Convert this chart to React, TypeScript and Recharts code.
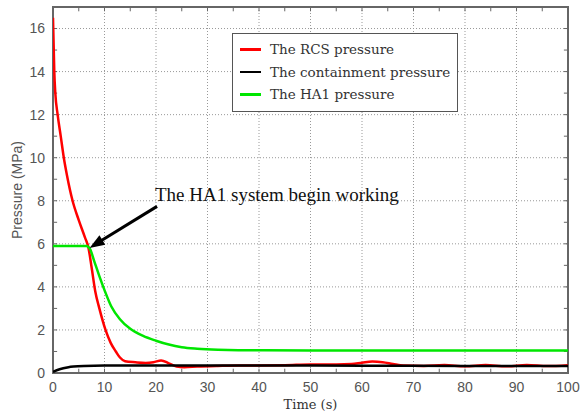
import React from 'react';
import {
  LineChart,
  Line,
  XAxis,
  YAxis,
  CartesianGrid,
  ReferenceLine,
  ReferenceArea,
  Legend,
} from 'recharts';

// RCS (reactor coolant system) pressure, MPa
const RCS_TIME = [0, 0.1, 0.25, 0.45, 0.9, 1.5, 2.1, 2.7, 3.8, 5.0, 6.2, 6.9, 7.5, 8.2, 9.0, 10.2, 11.2, 12.2, 13.0, 14.0, 16, 18, 19.5, 21, 22.5, 24, 25.5, 28, 32, 36, 40, 45, 50, 55, 58, 60, 62, 64, 66, 68, 72, 76, 80, 84, 88, 92, 96, 100];
const RCS_PRESSURE = [16.5, 15.5, 14.0, 13.0, 12.0, 11.0, 10.0, 9.2, 8.0, 7.1, 6.3, 5.8, 4.9, 3.8, 3.0, 2.0, 1.4, 1.0, 0.72, 0.55, 0.5, 0.47, 0.5, 0.58, 0.45, 0.3, 0.27, 0.3, 0.33, 0.35, 0.35, 0.36, 0.4, 0.4, 0.42, 0.48, 0.53, 0.5, 0.42, 0.35, 0.33, 0.37, 0.31, 0.37, 0.31, 0.37, 0.32, 0.36];

// Containment pressure, MPa
const CONT_TIME = [0, 1, 2, 3, 4, 6, 10, 20, 40, 60, 80, 100];
const CONT_PRESSURE = [0.05, 0.15, 0.22, 0.27, 0.3, 0.33, 0.35, 0.35, 0.35, 0.34, 0.33, 0.33];

// HA1 accumulator pressure, MPa
const HA1_TIME = [0, 3, 6.5, 7.2, 8.0, 9.0, 10.0, 11.3, 13, 15, 17.5, 20, 22.5, 25, 28, 32, 36, 50, 75, 100];
const HA1_PRESSURE = [5.9, 5.9, 5.9, 5.75, 5.2, 4.5, 3.85, 3.1, 2.5, 2.05, 1.72, 1.5, 1.32, 1.2, 1.13, 1.08, 1.06, 1.05, 1.05, 1.05];

const SERIES_NAMES = ['The RCS pressure', 'The containment pressure', 'The HA1 pressure'];
const SERIES_COLORS = ['#ff0000', '#000000', '#00e600'];

const X_TICKS = [0, 10, 20, 30, 40, 50, 60, 70, 80, 90, 100];
const Y_TICKS = [0, 2, 4, 6, 8, 10, 12, 14, 16];
const X_MINOR = [0, 5, 10, 15, 20, 25, 30, 35, 40, 45, 50, 55, 60, 65, 70, 75, 80, 85, 90, 95, 100];
const Y_MINOR = [0, 1, 2, 3, 4, 5, 6, 7, 8, 9, 10, 11, 12, 13, 14, 15, 16, 17];

const X_DOMAIN: [number, number] = [0, 100];
const Y_DOMAIN: [number, number] = [0, 17];

// Annotation arrow: from the caption down to the point where HA1 starts injecting
const ARROW_TAIL = { x: 20.2, y: 7.74 };
const ARROW_TIP = { x: 7.1, y: 5.81 };
const ARROW_TEXT = 'The HA1 system begin working';

const zip = (ts: number[], ps: number[]) => ts.map((t, i) => ({ t, p: ps[i] }));
const rcsData = zip(RCS_TIME, RCS_PRESSURE);
const contData = zip(CONT_TIME, CONT_PRESSURE);
const ha1Data = zip(HA1_TIME, HA1_PRESSURE);

const tickFont = { fontFamily: 'Liberation Sans, Arial, sans-serif', fontSize: 14, fill: '#555' };

const ArrowShape = (props: any) => {
  const { x1, y1, x2, y2 } = props;
  const dx = x2 - x1;
  const dy = y2 - y1;
  const len = Math.sqrt(dx * dx + dy * dy);
  const ux = dx / len;
  const uy = dy / len;
  const headLen = 15;
  const headHalf = 5.5;
  const bx = x2 - ux * headLen;
  const by = y2 - uy * headLen;
  const px = -uy;
  const py = ux;
  return (
    <g>
      <line x1={x1} y1={y1} x2={bx + ux * 2} y2={by + uy * 2} stroke="#000" strokeWidth={3} />
      <polygon
        points={`${x2},${y2} ${bx + px * headHalf},${by + py * headHalf} ${bx - px * headHalf},${by - py * headHalf}`}
        fill="#000"
      />
      <text
        x={x1 - 2}
        y={y1 - 5}
        fontFamily="Liberation Serif, Times New Roman, serif"
        fontSize={19}
        fill="#111"
      >
        {ARROW_TEXT}
      </text>
    </g>
  );
};

const LegendBox = (props: any) => {
  const payload = [...(props.payload || [])].sort(
    (a: any, b: any) => SERIES_NAMES.indexOf(a.value) - SERIES_NAMES.indexOf(b.value),
  );
  return (
    <div
      style={{
        width: 224,
        height: 73,
        border: '1px solid #555',
        background: '#fff',
        boxSizing: 'content-box',
        paddingTop: 4,
      }}
    >
      {payload.map((entry: any) => (
        <div key={entry.value} style={{ display: 'flex', alignItems: 'center', height: 22.5 }}>
          <div style={{ width: 21, height: 2.5, background: entry.color, marginLeft: 7, marginRight: 9 }} />
          <span
            style={{
              fontFamily: 'DejaVu Serif, serif',
              fontSize: 13.5,
              color: '#333',
              whiteSpace: 'nowrap',
            }}
          >
            {entry.value}
          </span>
        </div>
      ))}
    </div>
  );
};

export default function App() {
  return (
    <div style={{ position: 'absolute', left: 0, top: 0, background: '#fff' }}>
      <LineChart width={586} height={420} margin={{ top: 7, right: 18, bottom: 0, left: 0 }}>
        <CartesianGrid stroke="#999" strokeDasharray="1 2" strokeWidth={1} />
        <XAxis
          dataKey="t"
          type="number"
          domain={X_DOMAIN}
          ticks={X_TICKS}
          allowDataOverflow
          height={47}
          axisLine={false}
          tickLine={false}
          tickSize={0}
          tickMargin={9}
          tick={tickFont}
          label={{
            content: ({ viewBox }: any) => (
              <text
                x={viewBox.x + viewBox.width / 2}
                y={viewBox.y + 36}
                textAnchor="middle"
                fontFamily="DejaVu Serif, serif"
                fontSize={13}
                fill="#333"
              >
                Time (s)
              </text>
            ),
          }}
        />
        <YAxis
          type="number"
          domain={Y_DOMAIN}
          ticks={Y_TICKS}
          allowDataOverflow
          width={53}
          axisLine={false}
          tickLine={false}
          tickSize={0}
          tickMargin={8}
          tick={tickFont}
          label={{
            content: ({ viewBox }: any) => {
              const cx = viewBox.x + 17;
              const cy = viewBox.y + viewBox.height / 2;
              return (
                <text
                  x={cx}
                  y={cy}
                  transform={`rotate(-90, ${cx}, ${cy})`}
                  textAnchor="middle"
                  dominantBaseline="central"
                  fontFamily="Liberation Sans, Arial, sans-serif"
                  fontSize={14}
                  fill="#555"
                >
                  Pressure (MPa)
                </text>
              );
            },
          }}
        />
        {X_MINOR.map((x) => (
          <ReferenceLine
            key={`xb${x}`}
            segment={[{ x, y: 0 }, { x, y: 0.2 }]}
            stroke="#666"
            strokeWidth={1}
          />
        ))}
        {X_MINOR.map((x) => (
          <ReferenceLine
            key={`xt${x}`}
            segment={[{ x, y: 17 }, { x, y: 16.8 }]}
            stroke="#666"
            strokeWidth={1}
          />
        ))}
        {Y_MINOR.map((y) => (
          <ReferenceLine
            key={`yl${y}`}
            segment={[{ x: 0, y }, { x: 0.8, y }]}
            stroke="#666"
            strokeWidth={1}
          />
        ))}
        {Y_MINOR.map((y) => (
          <ReferenceLine
            key={`yr${y}`}
            segment={[{ x: 100, y }, { x: 99.2, y }]}
            stroke="#666"
            strokeWidth={1}
          />
        ))}
        <ReferenceArea
          x1={X_DOMAIN[0]}
          x2={X_DOMAIN[1]}
          y1={Y_DOMAIN[0]}
          y2={Y_DOMAIN[1]}
          fill="none"
          fillOpacity={0}
          stroke="#666"
          strokeWidth={2}
        />
        <Legend
          layout="vertical"
          align="center"
          verticalAlign="middle"
          content={<LegendBox />}
          wrapperStyle={{ left: 232, top: 33, width: 'auto' }}
        />
        <Line
          data={rcsData}
          dataKey="p"
          name={SERIES_NAMES[0]}
          type="monotone"
          stroke={SERIES_COLORS[0]}
          strokeWidth={2.5}
          dot={false}
          activeDot={false}
          isAnimationActive={false}
        />
        <Line
          data={contData}
          dataKey="p"
          name={SERIES_NAMES[1]}
          type="monotone"
          stroke={SERIES_COLORS[1]}
          strokeWidth={2.5}
          dot={false}
          activeDot={false}
          isAnimationActive={false}
        />
        <Line
          data={ha1Data}
          dataKey="p"
          name={SERIES_NAMES[2]}
          type="monotone"
          stroke={SERIES_COLORS[2]}
          strokeWidth={2.5}
          dot={false}
          activeDot={false}
          isAnimationActive={false}
        />
        <ReferenceLine segment={[ARROW_TAIL, ARROW_TIP]} shape={<ArrowShape />} ifOverflow="visible" />
      </LineChart>
    </div>
  );
}
